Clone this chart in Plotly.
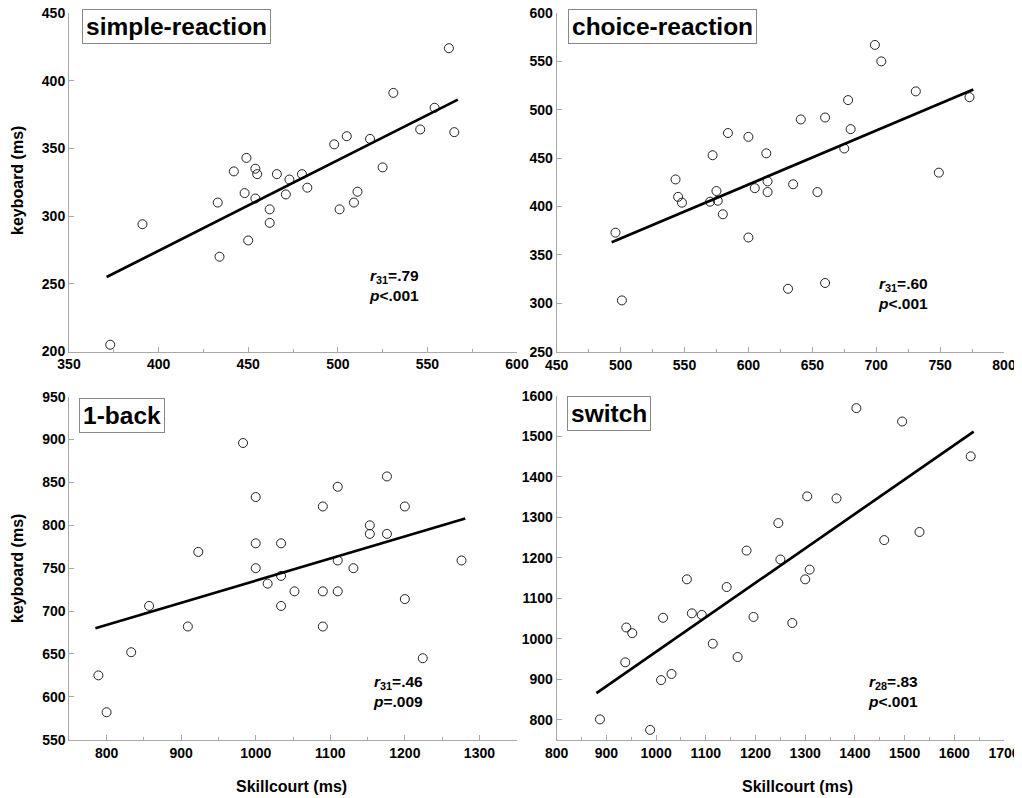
"""Keyboard vs Skillcourt reaction times, four tasks (2x2 scatter + fit line)."""
import plotly.graph_objects as go
from plotly.subplots import make_subplots

# page body keeps its 8px margin, so the figure is drawn 8px in from the corner
OFF = 8
W, H = 1014, 790
FONT = "Liberation Sans"

# --- data (ms) ---
simple_x = [373, 391, 433, 434, 442, 448, 449, 450, 454, 455, 454, 462, 462, 466, 471, 473,
            480, 483, 498, 501, 505, 509, 511, 518, 525, 531, 546, 554, 562, 565]
simple_y = [205, 294, 310, 270, 333, 317, 343, 282, 335, 331, 313, 305, 295, 331, 316, 327,
            331, 321, 353, 305, 359, 310, 318, 357, 336, 391, 364, 380, 424, 362]
simple_fit_x = [371, 567]
simple_fit_y = [255, 386]

choice_x = [496, 501, 543, 545, 548, 570, 572, 575, 576, 580, 584, 600, 600, 605, 614, 615,
            615, 631, 635, 641, 654, 660, 660, 675, 678, 680, 699, 704, 731, 749, 773]
choice_y = [373, 303, 428, 410, 404, 405, 453, 416, 406, 392, 476, 472, 368, 419, 455, 426,
            415, 315, 423, 490, 415, 492, 321, 460, 510, 480, 567, 550, 519, 435, 513]
choice_fit_x = [493, 776]
choice_fit_y = [363, 521]

back_x = [789, 800, 833, 857, 909, 923, 983, 1000, 1000, 1000, 1016, 1034, 1034, 1034, 1052,
          1090, 1090, 1090, 1110, 1110, 1110, 1131, 1153, 1153, 1176, 1176, 1200, 1200, 1224, 1276]
back_y = [625, 582, 652, 706, 682, 769, 896, 833, 779, 750, 732, 779, 741, 706, 723,
          822, 723, 682, 845, 759, 723, 750, 800, 790, 857, 790, 822, 714, 645, 759]
back_fit_x = [785, 1281]
back_fit_y = [680, 808]

switch_x = [887, 938, 940, 952, 988, 1010, 1014, 1031, 1062, 1072, 1092, 1114, 1142, 1164,
            1182, 1196, 1246, 1250, 1274, 1300, 1304, 1309, 1363, 1403, 1459, 1495, 1530, 1633]
switch_y = [801, 942, 1028, 1014, 775, 898, 1052, 913, 1147, 1063, 1059, 988, 1128, 955,
            1218, 1054, 1286, 1196, 1039, 1147, 1352, 1171, 1347, 1570, 1244, 1537, 1264, 1451]
switch_fit_x = [880, 1639]
switch_fit_y = [866, 1512]

panels = [
    # name, x, y, fit x, fit y, x range, x dtick, x tick0, y range, y dtick, y tick0, stats
    ("simple-reaction", simple_x, simple_y, simple_fit_x, simple_fit_y,
     [350, 600], 50, 350, [200, 450], 50, 200, ("31", ".79", "&lt;.001")),
    ("choice-reaction", choice_x, choice_y, choice_fit_x, choice_fit_y,
     [450, 800], 50, 450, [250, 600], 50, 250, ("31", ".60", "&lt;.001")),
    ("1-back", back_x, back_y, back_fit_x, back_fit_y,
     [750, 1350], 100, 800, [550, 950], 50, 550, ("31", ".46", "=.009")),
    ("switch", switch_x, switch_y, switch_fit_x, switch_fit_y,
     [800, 1700], 100, 800, [750, 1600], 100, 800, ("28", ".83", "&lt;.001")),
]

# layout positions in screenshot pixels (top row nudged down a little so the
# top tick labels are not clipped by the page edge)
boxes = [(69, 517, 13, 351.5), (556.7, 1004, 13, 351.7),
         (69.3, 516.7, 396.7, 739.7), (556.7, 1004, 396, 740)]
label_pos = [(81.7, 9), (568, 9), (79, 398), (567, 396)]
stat_pos = [(367, 265), (876, 273), (371, 671), (866, 671)]


def px(x):
    return (x - OFF) / W


def py(y):
    return 1 - (y - OFF) / H


fig = make_subplots(rows=2, cols=2)

for i, (name, xs, ys, fx, fy, xr, xd, x0, yr, yd, y0, st) in enumerate(panels):
    row, col = i // 2 + 1, i % 2 + 1
    fig.add_trace(go.Scatter(x=xs, y=ys, mode="markers", showlegend=False,
                             marker=dict(symbol="circle-open", size=9, color="#222",
                                         line=dict(width=1))), row=row, col=col)
    fig.add_trace(go.Scatter(x=fx, y=fy, mode="lines", showlegend=False,
                             line=dict(color="black", width=2.7)), row=row, col=col)

    l, r, t, b = boxes[i]
    axis_common = dict(showgrid=False, zeroline=False, showline=True, linecolor="#a8a8a8",
                       linewidth=1, ticks="inside", ticklen=5, tickcolor="#a8a8a8",
                       automargin=False, ticklabeloverflow="allow",
                       tickfont=dict(family=FONT, size=14, color="black", weight="bold"))
    fig.update_xaxes(range=xr, dtick=xd, tick0=x0, domain=[px(l), px(r)],
                     minor=dict(ticks="inside", ticklen=3, tickcolor="#a8a8a8", dtick=xd / 2,
                                tick0=x0, showgrid=False),
                     row=row, col=col, **axis_common)
    fig.update_yaxes(range=yr, dtick=yd, tick0=y0, domain=[py(b), py(t)],
                     row=row, col=col, **axis_common)

    lx, ly = label_pos[i]
    fig.add_annotation(text=f"<b>{name}</b>", xref="paper", yref="paper",
                       x=px(lx), y=py(ly), xanchor="left", yanchor="top", showarrow=False,
                       font=dict(family=FONT, size=24.5, color="black"),
                       bordercolor="#888", borderwidth=1, borderpad=3, bgcolor="white")
    sx, sy = stat_pos[i]
    fig.add_annotation(text=f"<b><i>r</i><sub>{st[0]}</sub>={st[1]}<br><i>p</i>{st[2]}</b>",
                       xref="paper", yref="paper", x=px(sx), y=py(sy),
                       xanchor="left", yanchor="top", align="left", showarrow=False,
                       font=dict(family=FONT, size=15.5, color="black"))

for yc in (181, 569):
    fig.add_annotation(text="<b>keyboard (ms)</b>", xref="paper", yref="paper",
                       x=px(17), y=py(yc), xanchor="center", yanchor="middle",
                       textangle=-90, showarrow=False,
                       font=dict(family=FONT, size=16, color="black"))
for xc in (291, 797):
    fig.add_annotation(text="<b>Skillcourt (ms)</b>", xref="paper", yref="paper",
                       x=px(xc), y=py(786), xanchor="center", yanchor="middle",
                       showarrow=False,
                       font=dict(family=FONT, size=16, color="black"))

fig.update_layout(width=W, height=H, margin=dict(l=0, r=0, t=0, b=0, autoexpand=False),
                  plot_bgcolor="white", paper_bgcolor="white")
fig.write_html("out.html")
